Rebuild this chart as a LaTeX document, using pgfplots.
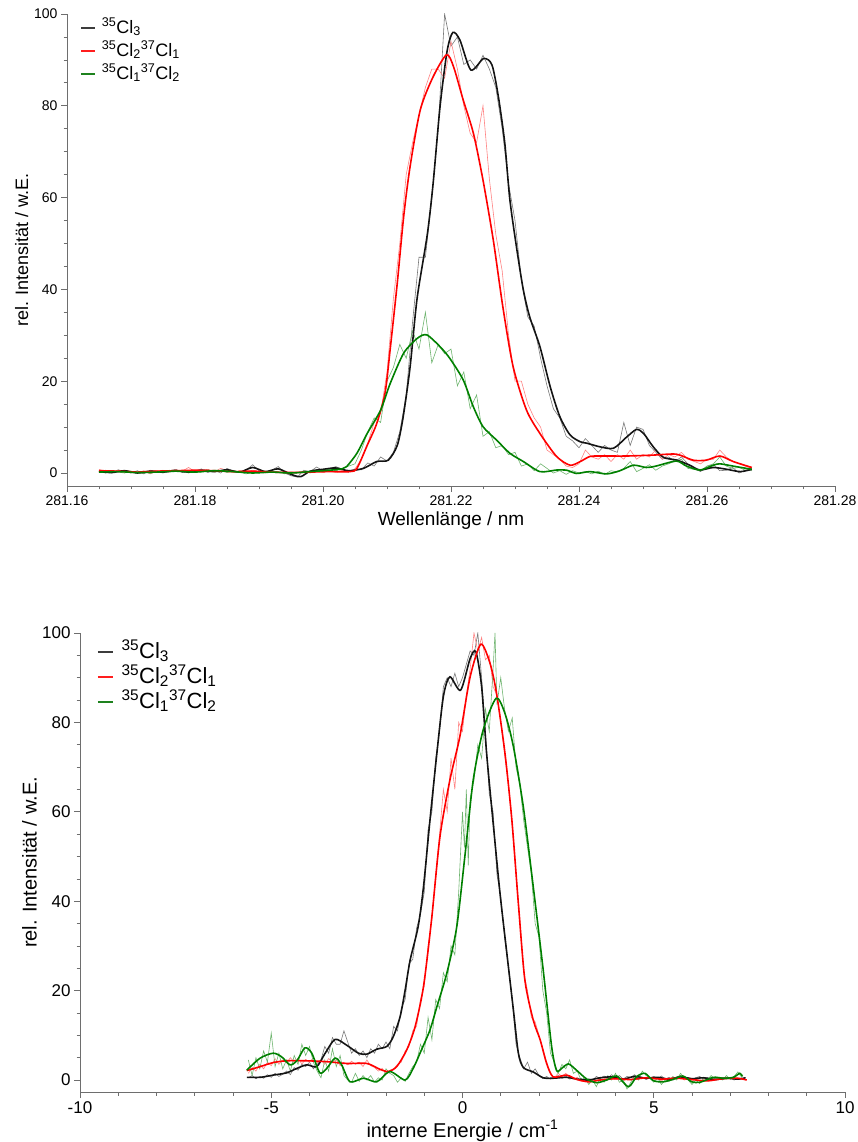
\documentclass[border=0pt]{standalone}
\usepackage{fontspec}
\setmainfont{Liberation Sans}
\usepackage{pgfplots}
\pgfplotsset{compat=1.18}
\usepackage{pgfplotstable}

\definecolor{cblack}{RGB}{20,20,20}
\definecolor{cred}{RGB}{255,0,0}
\definecolor{cgreen}{RGB}{0,128,0}
\definecolor{rblack}{RGB}{120,120,120}
\definecolor{rred}{RGB}{255,130,130}
\definecolor{rgreen}{RGB}{110,180,110}
\definecolor{axgray}{RGB}{110,110,110}
\definecolor{legblack}{RGB}{60,60,60}
\definecolor{legred}{RGB}{255,30,30}
\definecolor{leggreen}{RGB}{30,130,30}

% ---------------- top: smoothed ----------------
\pgfplotstableread{
x y
281.165 0.3
281.167 0.1
281.169 0.5
281.171 0.0
281.173 0.4
281.175 0.2
281.177 0.5
281.179 0.2
281.181 0.6
281.183 0.3
281.185 0.7
281.187 0.2
281.189 1.2
281.191 0.3
281.193 0.9
281.195 -0.3
281.1965 -0.8
281.198 0.4
281.200 0.8
281.202 1.1
281.204 0.5
281.2063 1.0
281.2084 2.5
281.2102 2.8
281.2116 6
281.2125 12
281.2136 23
281.2147 38
281.2163 52
281.2172 63
281.2183 80
281.2194 92
281.2203 96
281.2214 94.3
281.2231 87.8
281.2251 90.3
281.2264 88.9
281.2274 82
281.2284 71.9
281.2292 59.5
281.2303 48.6
281.2313 39.9
281.2323 34
281.2339 27.5
281.2355 18.8
281.2370 12.3
281.2386 8.3
281.2402 6.8
281.2412 6.5
281.2433 5.7
281.2454 5.4
281.2475 7.9
281.2490 9.5
281.2501 8.6
281.2516 5.7
281.2532 3.4
281.2553 2.8
281.2573 1.7
281.2589 0.65
281.2610 1.2
281.2631 0.8
281.2652 0.3
281.2670 0.8
}\topBlackS

\pgfplotstableread{
x y
281.165 0.5
281.168 0.4
281.171 0.2
281.174 0.4
281.177 0.5
281.180 0.6
281.183 0.5
281.186 0.3
281.189 0.4
281.192 0.2
281.195 0.1
281.198 0.2
281.201 0.3
281.2042 0.3
281.2053 1.0
281.2069 6.0
281.2084 10.8
281.2097 17.5
281.2105 27
281.2116 41.3
281.2126 55.8
281.2136 66.7
281.2152 79.1
281.2172 86.3
281.2193 91.1
281.2204 88.5
281.2219 81.3
281.2235 74
281.2250 63.8
281.2266 50.8
281.2281 36.2
281.2297 23.2
281.2318 13.7
281.2339 8.6
281.2365 3.6
281.2386 1.7
281.2402 2.5
281.2417 3.6
281.2433 3.7
281.2474 3.7
281.2516 3.9
281.2552 4.1
281.2578 2.8
281.2599 2.8
281.2620 3.7
281.2641 2.5
281.2670 1.2
}\topRedS

\pgfplotstableread{
x y
281.165 0.2
281.168 0.3
281.171 0.1
281.174 0.2
281.177 0.4
281.180 0.2
281.183 0.5
281.186 0.3
281.189 0.0
281.192 0.2
281.195 0.0
281.198 0.3
281.201 0.6
281.203 0.9
281.2037 1.4
281.2053 4.3
281.2069 8.6
281.2090 13.7
281.2105 19.5
281.2126 26.1
281.2147 29.3
281.2162 30.1
281.2183 27.5
281.2198 25
281.2219 20.3
281.2235 14.4
281.2250 10.1
281.2271 7.2
281.2292 4.3
281.2313 2.5
281.2339 0.3
281.2365 0.65
281.2381 0.6
281.2396 -0.1
281.2417 0.3
281.2443 -0.2
281.2464 0.5
281.2485 1.7
281.2505 1.2
281.2520 1.5
281.2552 2.6
281.2568 1.5
281.2589 0.65
281.2610 1.7
281.2620 2.0
281.2641 1.5
281.2670 0.8
}\topGreenS

% ---------------- top: raw ----------------
\pgfplotstableread{
x y
281.165 0.2
281.166 0.6
281.167 0.0
281.168 0.7
281.169 0.3
281.170 0.0
281.171 0.5
281.172 -0.2
281.173 0.6
281.174 0.3
281.175 0.0
281.176 0.5
281.177 0.8
281.178 0.1
281.179 0.4
281.180 0.2
281.181 0.9
281.182 0.1
281.183 0.6
281.184 0.0
281.185 1.0
281.186 0.4
281.187 0.1
281.188 0.6
281.189 1.8
281.190 0.5
281.191 0.2
281.192 0.6
281.193 1.4
281.194 0.0
281.195 -0.6
281.196 -0.9
281.197 0.6
281.198 0.3
281.199 1.3
281.200 0.5
281.201 0.9
281.202 1.4
281.203 0.8
281.204 0.2
281.205 0.9
281.206 0.7
281.207 2.2
281.208 1.5
281.209 3.5
281.210 2.6
281.211 4.5
281.212 9.0
281.213 17
281.214 33
281.215 47
281.216 47
281.217 60
281.218 75
281.219 100
281.220 93
281.221 95
281.222 89
281.223 90
281.224 88
281.225 91
281.226 88
281.227 84
281.228 75
281.229 63
281.230 55
281.231 42
281.232 34
281.233 32
281.234 25
281.235 19
281.236 14
281.237 12
281.238 8
281.239 7
281.240 5.5
281.241 7.5
281.242 6.0
281.243 4.5
281.244 6.0
281.245 5.0
281.246 4.5
281.247 11
281.248 6
281.249 10
281.250 9.5
281.251 6.0
281.252 4.5
281.253 3.0
281.254 3.5
281.255 2.5
281.256 3.5
281.257 2.0
281.258 1.0
281.259 0.3
281.260 1.5
281.261 1.8
281.262 0.5
281.263 0.6
281.264 1.2
281.265 0.0
281.266 0.6
281.267 1.0
}\topBlackR

\pgfplotstableread{
x y
281.165 0.8
281.166 0.3
281.167 0.1
281.168 0.6
281.169 0.2
281.170 0.4
281.171 0.0
281.172 0.5
281.173 -0.2
281.174 0.4
281.175 0.6
281.176 0.2
281.177 0.7
281.178 0.4
281.179 1.2
281.180 0.3
281.181 0.6
281.182 0.8
281.183 0.2
281.184 1.0
281.185 0.6
281.186 0.1
281.187 0.5
281.188 0.2
281.189 0.6
281.190 0.3
281.191 0.0
281.192 0.4
281.193 0.1
281.194 0.3
281.195 0.0
281.196 0.2
281.197 0.4
281.198 0.0
281.199 0.5
281.200 0.2
281.201 0.4
281.202 0.1
281.203 0.6
281.204 0.3
281.205 0.9
281.206 3.0
281.207 6.5
281.208 11
281.209 13
281.210 22
281.211 38
281.212 50
281.213 65
281.214 72
281.215 78
281.216 84
281.217 88
281.218 88
281.219 86
281.220 94
281.221 88
281.222 80
281.223 74
281.224 72
281.225 80
281.226 64
281.227 52
281.228 44
281.229 30
281.230 20
281.231 20
281.232 15
281.233 12
281.234 10
281.235 5
281.236 4
281.237 3
281.238 1.5
281.239 1.2
281.240 2.0
281.241 5.0
281.242 3.5
281.243 3.0
281.244 4.0
281.245 2.5
281.246 4.0
281.247 3.0
281.248 5.0
281.249 3.0
281.250 4.0
281.251 3.5
281.252 5.0
281.253 3.0
281.254 4.0
281.255 3.5
281.256 4.5
281.257 3.0
281.258 2.5
281.259 2.0
281.260 3.0
281.261 3.0
281.262 5.0
281.263 3.5
281.264 2.5
281.265 2.0
281.266 1.5
281.267 1.0
}\topRedR

\pgfplotstableread{
x y
281.165 0.3
281.166 0.0
281.167 0.5
281.168 0.2
281.169 0.0
281.170 0.4
281.171 0.1
281.172 0.3
281.173 -0.1
281.174 0.4
281.175 0.2
281.176 0.6
281.177 0.3
281.178 0.5
281.179 0.0
281.180 0.4
281.181 0.2
281.182 0.7
281.183 0.3
281.184 0.6
281.185 0.1
281.186 0.5
281.187 0.2
281.188 -0.2
281.189 0.3
281.190 0.0
281.191 0.4
281.192 0.1
281.193 0.3
281.194 -0.2
281.195 0.2
281.196 0.0
281.197 0.4
281.198 0.2
281.199 0.6
281.200 0.3
281.201 0.9
281.202 0.5
281.203 1.0
281.204 1.5
281.205 2.0
281.206 5.0
281.207 9.0
281.208 12
281.209 11
281.210 20
281.211 23
281.212 28
281.213 25
281.214 31
281.215 27
281.216 35
281.217 24
281.218 28
281.219 26
281.220 27
281.221 19
281.222 22
281.223 14
281.224 17
281.225 8
281.226 9
281.227 5.5
281.228 6
281.229 4
281.230 4.5
281.231 1.5
281.232 2
281.233 0.5
281.234 2
281.235 1
281.236 0
281.237 0.5
281.238 -0.3
281.239 0.5
281.240 0.0
281.241 0.3
281.242 -0.2
281.243 0.4
281.244 -0.3
281.245 0.5
281.246 0.2
281.247 1.0
281.248 2.5
281.249 0.3
281.250 1.0
281.251 1.8
281.252 0.6
281.253 1.5
281.254 2.0
281.255 2.6
281.256 3.0
281.257 1.0
281.258 0.8
281.259 0.5
281.260 1.5
281.261 2.0
281.262 3.5
281.263 1.5
281.264 1.0
281.265 1.2
281.266 0.6
281.267 0.5
}\topGreenR

% ---------------- bottom: smoothed ----------------
\pgfplotstableread{
x y
-5.64 0.6
-5.29 0.6
-4.95 1.1
-4.60 1.6
-4.33 2.6
-4.07 3.4
-3.81 3.0
-3.59 6.0
-3.33 9.1
-3.03 7.8
-2.72 6.0
-2.50 5.8
-2.24 6.9
-1.98 7.5
-1.81 9.7
-1.63 14.2
-1.50 20.1
-1.37 26.8
-1.16 34.3
-1.02 43.2
-0.85 58.2
-0.67 73.1
-0.50 85.8
-0.33 90.2
-0.05 87.2
0.20 94.3
0.35 95.8
0.50 88
0.63 73.1
0.81 56.7
0.98 41.8
1.16 28.3
1.33 15.7
1.46 6.0
1.59 2.8
1.85 1.8
2.11 0.5
2.37 0.4
2.72 0.6
3.0 0.2
3.3 0.0
3.6 0.5
3.9 0.7
4.2 0.2
4.5 0.8
4.8 0.4
5.1 0.6
5.4 0.2
5.7 0.7
6.0 0.3
6.3 0.5
6.6 0.1
6.9 0.4
7.2 0.2
7.4 0.5
}\botBlackS

\pgfplotstableread{
x y
-5.64 2.1
-5.29 3.0
-4.95 3.9
-4.60 4.3
-4.07 4.3
-3.55 4.1
-3.03 3.7
-2.50 3.7
-2.16 2.4
-1.94 1.9
-1.72 3.0
-1.46 6.7
-1.24 11.9
-1.02 20.9
-0.81 35.8
-0.59 54.4
-0.33 67.1
-0.07 76.8
0.20 90.2
0.48 97.5
0.72 93.2
0.89 86.5
1.11 73.1
1.29 58.2
1.46 39.5
1.63 22.4
1.85 13.4
2.03 9
2.20 3.7
2.37 0.7
2.72 1.1
3.0 0.1
3.3 -0.4
3.6 0.0
4.0 0.3
4.4 0.1
4.8 0.5
5.2 0.2
5.6 0.4
6.0 0.1
6.4 -0.2
6.8 0.3
7.2 0.4
7.43 0.0
}\botRedS

\pgfplotstableread{
x y
-5.64 2.2
-5.29 4.9
-4.95 6.0
-4.73 5.2
-4.51 3.4
-4.33 4.3
-4.12 7.2
-3.94 6.0
-3.73 1.6
-3.55 2.6
-3.33 4.9
-3.16 3.4
-2.94 -0.4
-2.59 0.4
-2.24 -0.4
-1.90 1.9
-1.50 0
-1.29 2.6
-1.07 6.8
-0.85 11.2
-0.67 16.4
-0.41 23.9
-0.15 34.3
0.07 50.7
0.28 67.1
0.54 78.3
0.88 85.4
1.11 82
1.33 74.6
1.59 61.1
1.85 43.2
2.11 24.6
2.33 7.5
2.46 2.1
2.59 2.6
2.77 3.6
2.98 2.2
3.25 0.2
3.51 -0.6
3.77 0
4.03 0.9
4.34 -1.5
4.55 0.75
4.77 1.5
4.99 -0.15
5.25 -0.4
5.51 0.15
5.76 0.9
5.99 -0.4
6.21 -0.5
6.56 0.6
6.82 0.4
7.08 0.6
7.25 1.5
7.32 0.8
}\botGreenS

% ---------------- bottom: raw ----------------
\pgfplotstableread{
x y
-5.6 0.5
-5.5 1.0
-5.4 0.3
-5.3 0.8
-5.2 0.4
-5.1 1.2
-5.0 0.6
-4.9 1.5
-4.8 0.8
-4.7 1.3
-4.6 2.0
-4.5 1.2
-4.4 2.8
-4.3 2.2
-4.2 3.5
-4.1 3.0
-4.0 4.0
-3.9 2.5
-3.8 3.5
-3.7 4.5
-3.6 7.5
-3.5 6.0
-3.4 9.5
-3.3 8.0
-3.2 8.0
-3.1 11
-3.0 8.5
-2.9 6.0
-2.8 7.0
-2.7 5.5
-2.6 6.5
-2.5 5.0
-2.4 7.0
-2.3 6.0
-2.2 8.0
-2.1 7.0
-2.0 8.5
-1.9 7.0
-1.8 12
-1.7 11
-1.6 16
-1.5 18
-1.4 26
-1.3 27
-1.2 34
-1.1 37
-1.0 42
-0.9 56
-0.8 60
-0.7 72
-0.6 78
-0.5 88
-0.4 90
-0.3 88
-0.2 91
-0.1 88
0.0 90
0.1 93
0.2 96
0.3 95
0.4 100
0.5 90
0.6 78
0.7 64
0.8 60
0.9 46
1.0 41
1.1 32
1.2 25
1.3 18
1.4 8
1.5 5
1.6 2.5
1.7 4.0
1.8 1.5
1.9 2.5
2.0 1.0
2.1 0.3
2.2 0.8
2.3 0.2
2.4 0.6
2.5 1.0
2.6 0.4
2.7 0.9
2.8 0.2
2.9 0.5
3.0 0.0
3.1 0.4
3.2 -0.3
3.3 0.3
3.4 0.0
3.5 0.8
3.6 0.3
3.7 0.9
3.8 0.5
3.9 1.2
4.0 0.4
4.1 1.0
4.2 0.2
4.3 0.8
4.4 0.6
4.5 1.2
4.6 0.3
4.7 0.6
4.8 0.1
4.9 0.5
5.0 0.8
5.1 0.3
5.2 0.9
5.3 0.2
5.4 0.6
5.5 0.0
5.6 0.7
5.7 1.0
5.8 0.3
5.9 0.6
6.0 0.1
6.1 0.5
6.2 0.8
6.3 0.2
6.4 0.6
6.5 0.0
6.6 0.4
6.7 0.1
6.8 0.6
6.9 0.2
7.0 0.5
7.1 0.0
7.2 0.4
7.3 0.2
7.4 0.6
}\botBlackR

\pgfplotstableread{
x y
-5.6 1.5
-5.5 2.8
-5.4 2.0
-5.3 3.5
-5.2 2.5
-5.1 4.0
-5.0 3.2
-4.9 4.8
-4.8 3.5
-4.7 4.5
-4.6 3.8
-4.5 5.0
-4.4 4.0
-4.3 4.8
-4.2 3.6
-4.1 4.6
-4.0 4.0
-3.9 5.0
-3.8 3.8
-3.7 4.5
-3.6 3.5
-3.5 4.8
-3.4 4.0
-3.3 4.5
-3.2 3.2
-3.1 4.0
-3.0 3.4
-2.9 4.2
-2.8 3.5
-2.7 4.0
-2.6 3.0
-2.5 4.5
-2.4 3.2
-2.3 2.8
-2.2 2.0
-2.1 2.6
-2.0 1.5
-1.9 2.2
-1.8 2.5
-1.7 3.5
-1.6 4.0
-1.5 6.5
-1.4 7.5
-1.3 11
-1.2 12
-1.1 18
-1.0 21
-0.9 30
-0.8 36
-0.7 46
-0.6 55
-0.5 65
-0.4 60
-0.3 72
-0.2 65
-0.1 80
0.0 78
0.1 86
0.2 92
0.3 100
0.4 96
0.5 99
0.6 94
0.7 95
0.8 88
0.9 86
1.0 80
1.1 73
1.2 66
1.3 57
1.4 46
1.5 36
1.6 24
1.7 20
1.8 14
1.9 13
2.0 10
2.1 7
2.2 4
2.3 1.5
2.4 0.5
2.5 1.5
2.6 0.8
2.7 1.5
2.8 0.5
2.9 0.2
3.0 0.6
3.1 -0.3
3.2 0.2
3.3 -0.5
3.4 0.0
3.5 0.4
3.6 -0.2
3.7 0.3
3.8 0.0
3.9 0.5
4.0 0.1
4.1 0.4
4.2 -0.2
4.3 0.2
4.4 0.0
4.5 0.5
4.6 0.1
4.7 0.6
4.8 0.2
4.9 0.4
5.0 0.0
5.1 0.3
5.2 -0.2
5.3 0.4
5.4 0.1
5.5 0.6
5.6 0.2
5.7 0.5
5.8 0.0
5.9 0.3
6.0 -0.1
6.1 0.2
6.2 -0.3
6.3 0.1
6.4 0.0
6.5 0.4
6.6 0.2
6.7 0.5
6.8 0.1
6.9 0.4
7.0 0.3
7.1 0.6
7.2 0.2
7.3 0.4
7.4 0.0
}\botRedR

\pgfplotstableread{
x y
-5.6 4.5
-5.5 1.0
-5.4 5.0
-5.3 2.5
-5.2 6.5
-5.1 4.0
-5.0 10.5
-4.9 3.0
-4.8 6.0
-4.7 2.5
-4.6 4.5
-4.5 2.0
-4.4 5.5
-4.3 3.5
-4.2 8.0
-4.1 5.5
-4.0 7.5
-3.9 4.0
-3.8 2.0
-3.7 0.5
-3.6 4.5
-3.5 2.0
-3.4 7.0
-3.3 3.0
-3.2 5.5
-3.1 1.0
-3.0 0.0
-2.9 -0.5
-2.8 1.5
-2.7 -0.3
-2.6 1.0
-2.5 0.0
-2.4 1.0
-2.3 -0.5
-2.2 0.5
-2.1 0.0
-2.0 2.5
-1.9 1.5
-1.8 1.0
-1.7 -0.5
-1.6 0.5
-1.5 -0.3
-1.4 1.5
-1.3 3.0
-1.2 4.0
-1.1 8.0
-1.0 6.0
-0.9 14
-0.8 9
-0.7 18
-0.6 16
-0.5 24
-0.4 22
-0.3 30
-0.2 28
-0.1 42
0.0 60
0.05 52
0.1 65
0.15 48
0.2 63
0.3 67
0.4 75
0.5 72
0.6 83
0.7 78
0.8 92
0.85 100
0.9 84
1.0 90
1.1 83
1.2 78
1.3 81
1.4 70
1.5 66
1.6 58
1.7 52
1.8 46
1.9 35
2.0 32
2.1 20
2.2 15
2.3 6
2.4 4
2.5 1.5
2.6 3.5
2.7 2.5
2.8 4.5
2.9 1.5
3.0 2.0
3.1 0.0
3.2 0.5
3.3 -1.0
3.4 0.0
3.5 -1.5
3.6 0.5
3.7 -0.5
3.8 1.0
3.9 0.0
4.0 1.5
4.1 -0.5
4.2 0.0
4.3 -2.0
4.4 -0.5
4.5 1.0
4.6 0.0
4.7 2.0
4.8 1.0
4.9 0.5
5.0 -0.5
5.1 0.5
5.2 -1.0
5.3 0.0
5.4 -0.3
5.5 0.8
5.6 0.0
5.7 1.5
5.8 0.5
5.9 0.0
6.0 -1.0
6.1 0.0
6.2 -0.8
6.3 0.5
6.4 0.0
6.5 1.0
6.6 0.2
6.7 0.5
6.8 0.0
6.9 1.0
7.0 0.2
7.1 0.8
7.2 1.8
7.3 0.6
}\botGreenR

\pgfplotsset{
  myaxis/.style={
    scale only axis,
    axis x line*=bottom,
    axis y line*=left,
    axis line style={axgray, line width=0.7pt},
    tick style={axgray, line width=0.7pt},
    tick align=outside,
    major tick length=6pt,
    minor tick length=3.5pt,
    /pgf/number format/assume math mode=true,
    scaled ticks=false,
    ymax=100,
    ytick={0,20,...,100},
    minor y tick num=3,
    legend cell align=left,
  },
  sline/.style={line width=1.6pt, smooth, tension=0.45},
  rline/.style={line width=0.6pt},
}

\newcommand{\isoA}{\textsuperscript{35}Cl\textsubscript{3}}
\newcommand{\isoB}{\textsuperscript{35}Cl\textsubscript{2}\textsuperscript{37}Cl\textsubscript{1}}
\newcommand{\isoC}{\textsuperscript{35}Cl\textsubscript{1}\textsuperscript{37}Cl\textsubscript{2}}

\begin{document}
\begin{tikzpicture}
\path[use as bounding box] (0pt,0pt) rectangle (857pt,1142pt);

% ---------------- top axis ----------------
\begin{axis}[
  myaxis,
  at={(67pt,656pt)}, anchor=south west,
  width=768pt, height=472pt,
  xmin=281.16, xmax=281.28,
  ymin=-2.83,
  xtick={281.16,281.18,281.20,281.22,281.24,281.26,281.28},
  minor x tick num=3,
  xticklabel style={/pgf/number format/.cd, fixed, fixed zerofill, precision=2},
  ticklabel style={font=\fontsize{14}{16}\selectfont},
  xlabel={Wellenlänge / nm},
  ylabel={rel. Intensität / w.E.},
  xlabel style={font=\fontsize{19}{21}\selectfont, at={(axis description cs:0.5,-0.074)}, anchor=center},
  ylabel style={font=\fontsize{18}{20}\selectfont, at={(axis description cs:-0.059,0.5)}, anchor=center},
  legend image code/.code={\draw[#1] (0pt,0.5pt) -- (14pt,0.5pt);},
  legend style={draw=none, fill=none, at={(axis description cs:0.017,0.994)}, anchor=north west,
    font=\fontsize{18}{21}\selectfont, inner sep=0pt, row sep=0pt, column sep=0pt,
    nodes={inner sep=0pt, text height=16pt, text depth=7pt}},
]
\addplot[rline, rblack, forget plot] table {\topBlackR};
\addplot[rline, rred, forget plot] table {\topRedR};
\addplot[rline, rgreen, forget plot] table {\topGreenR};
\addplot[sline, cblack, forget plot] table {\topBlackS};
\addplot[sline, cred, forget plot] table {\topRedS};
\addplot[sline, cgreen, forget plot] table {\topGreenS};
\addlegendimage{color=legblack, line width=1.5pt}
\addlegendentry{\hspace{6pt}\isoA}
\addlegendimage{color=legred, line width=1.5pt}
\addlegendentry{\hspace{6pt}\isoB}
\addlegendimage{color=leggreen, line width=1.5pt}
\addlegendentry{\hspace{6pt}\isoC}
\end{axis}

% ---------------- bottom axis ----------------
\begin{axis}[
  myaxis,
  at={(80pt,50pt)}, anchor=south west,
  width=765pt, height=459pt,
  xmin=-10, xmax=10,
  ymin=-2.68,
  xtick={-10,-5,0,5,10},
  minor x tick num=4,
  ticklabel style={font=\fontsize{17}{19}\selectfont},
  xlabel={interne Energie / cm\textsuperscript{-1}},
  ylabel={rel. Intensität / w.E.},
  xlabel style={font=\fontsize{20}{22}\selectfont, at={(axis description cs:0.5,-0.085)}, anchor=center},
  ylabel style={font=\fontsize{20}{22}\selectfont, at={(axis description cs:-0.066,0.5)}, anchor=center},
  legend image code/.code={\draw[#1] (0pt,0.5pt) -- (15pt,0.5pt);},
  legend style={draw=none, fill=none, at={(axis description cs:0.022,0.985)}, anchor=north west,
    font=\fontsize{22}{25}\selectfont, inner sep=0pt, row sep=0pt, column sep=0pt,
    nodes={inner sep=0pt, text height=18pt, text depth=7pt}},
]
\addplot[rline, rblack, forget plot] table {\botBlackR};
\addplot[rline, rred, forget plot] table {\botRedR};
\addplot[rline, rgreen, forget plot] table {\botGreenR};
\addplot[sline, cblack, forget plot] table {\botBlackS};
\addplot[sline, cred, forget plot] table {\botRedS};
\addplot[sline, cgreen, forget plot] table {\botGreenS};
\addlegendimage{color=legblack, line width=1.5pt}
\addlegendentry{\hspace{8pt}\isoA}
\addlegendimage{color=legred, line width=1.5pt}
\addlegendentry{\hspace{8pt}\isoB}
\addlegendimage{color=leggreen, line width=1.5pt}
\addlegendentry{\hspace{8pt}\isoC}
\end{axis}
\end{tikzpicture}
\end{document}
